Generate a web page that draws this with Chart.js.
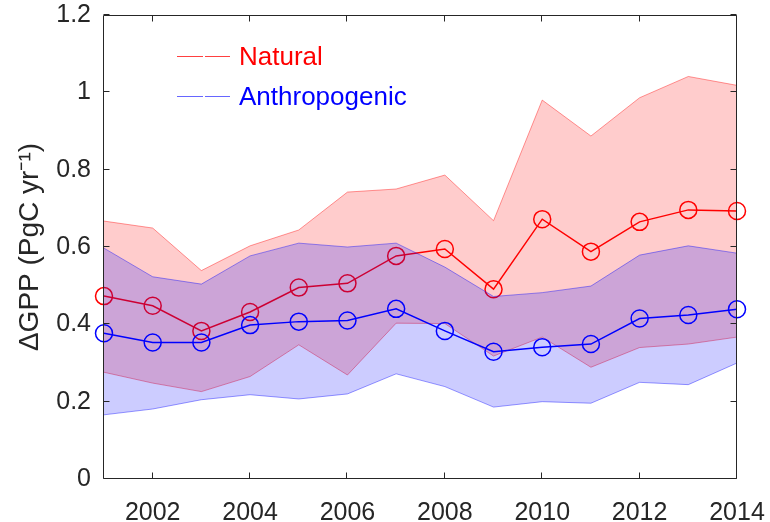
<!DOCTYPE html>
<html><head><meta charset="utf-8">
<script src="https://cdn.jsdelivr.net/npm/chart.js@4"></script>
<style>html,body{margin:0;padding:0;background:#fff}canvas{display:block}</style>
</head><body>
<canvas id="c" width="770" height="522"></canvas>
<script>
const years = [2001,2002,2003,2004,2005,2006,2007,2008,2009,2010,2011,2012,2013,2014];
const naturalMean  = [0.473,0.448,0.383,0.432,0.495,0.506,0.577,0.595,0.491,0.672,0.588,0.665,0.696,0.693];
const naturalUpper = [0.667,0.649,0.539,0.603,0.644,0.742,0.750,0.786,0.668,0.980,0.887,0.986,1.041,1.018];
const naturalLower = [0.276,0.248,0.226,0.265,0.347,0.269,0.403,0.402,0.318,0.367,0.289,0.340,0.349,0.367];
const anthroMean   = [0.377,0.353,0.353,0.398,0.407,0.410,0.440,0.383,0.329,0.341,0.349,0.415,0.424,0.439];
const anthroUpper  = [0.597,0.523,0.504,0.577,0.610,0.600,0.610,0.548,0.472,0.482,0.499,0.579,0.603,0.584];
const anthroLower  = [0.166,0.181,0.205,0.218,0.207,0.220,0.272,0.239,0.186,0.200,0.196,0.250,0.244,0.300];
const xTicks = [2002,2004,2006,2008,2010,2012,2014];
const xTickLabels = ['2002','2004','2006','2008','2010','2012','2014'];
const yTicks = [0,0.2,0.4,0.6,0.8,1,1.2];
const yTickLabels = ['0','0.2','0.4','0.6','0.8','1','1.2'];
const seriesNames = ['Natural','Anthropogenic'];
const yTitle = 'ΔGPP (PgC yr⁻¹)';

const FONT = '"Liberation Sans", Arial, Helvetica, sans-serif';
const AXIS = '#262626';
const pts = arr => arr.map((v,i)=>({x:years[i], y:v}));

const boxPlugin = {
  id:'box',
  afterDatasetsDraw(chart){
    const {ctx, chartArea:a, scales:{x,y}} = chart;
    ctx.save();
    ctx.strokeStyle = AXIS; ctx.lineWidth = 1;
    const L = Math.round(a.left)-0.5, R = Math.round(a.right)-0.5, T = Math.round(a.top)+0.5, B = Math.round(a.bottom)-0.5;
    ctx.beginPath();
    ctx.rect(L, T, R-L, B-T);
    const tl = 6;
    xTicks.forEach(v=>{
      const px = Math.round(x.getPixelForValue(v))-0.5;
      ctx.moveTo(px,B); ctx.lineTo(px,B-tl);
      ctx.moveTo(px,T); ctx.lineTo(px,T+tl);
    });
    yTicks.forEach(v=>{
      const py = Math.round(y.getPixelForValue(v))-0.5;
      ctx.moveTo(L,py); ctx.lineTo(L+tl,py);
      ctx.moveTo(R,py); ctx.lineTo(R-tl,py);
    });
    ctx.stroke();
    // legend
    const items = [
      {label:seriesNames[0], line:'rgba(255,0,0,0.75)', text:'#ff0000', y:56.5},
      {label:seriesNames[1], line:'rgba(0,0,255,0.6)', text:'#0000ff', y:96.5}
    ];
    items.forEach(it=>{
      ctx.strokeStyle = it.line; ctx.lineWidth = 1;
      ctx.beginPath();
      ctx.moveTo(177,it.y); ctx.lineTo(203,it.y);
      ctx.moveTo(205,it.y); ctx.lineTo(230,it.y);
      ctx.stroke();
      ctx.fillStyle = it.text;
      ctx.font = '26px ' + FONT;
      ctx.textAlign = 'left'; ctx.textBaseline = 'middle';
      ctx.fillText(it.label, 239, it.y+1);
    });
    ctx.restore();
  }
};

const meanStyle = (c)=>({
  borderColor:c, backgroundColor:'rgba(0,0,0,0)', borderWidth:1.5,
  pointRadius:8.5, pointHoverRadius:8.5, pointBorderWidth:1.5, pointBorderColor:c,
  pointBackgroundColor:'rgba(0,0,0,0)', pointStyle:'circle', fill:false, clip:false, tension:0
});
const edgeStyle = (c)=>({borderColor:c, borderWidth:1, pointRadius:0, tension:0});
const noPad = s=>{s.paddingTop=0; s.paddingBottom=0; s.paddingLeft=0; s.paddingRight=0;};

new Chart(document.getElementById('c'), {
  type:'line',
  data:{datasets:[
    Object.assign({label:seriesNames[1], data:pts(anthroMean), order:0}, meanStyle('#0000ff')),
    Object.assign({label:'anthro upper', data:pts(anthroUpper), order:1, fill:false}, edgeStyle('rgba(0,0,255,0.4)')),
    Object.assign({label:'anthro lower', data:pts(anthroLower), order:2, fill:'-1', backgroundColor:'rgba(0,0,255,0.2)'}, edgeStyle('rgba(0,0,255,0.4)')),
    Object.assign({label:seriesNames[0], data:pts(naturalMean), order:3}, meanStyle('#ff0000')),
    Object.assign({label:'natural upper', data:pts(naturalUpper), order:4, fill:false}, edgeStyle('rgba(255,0,0,0.4)')),
    Object.assign({label:'natural lower', data:pts(naturalLower), order:5, fill:'-1', backgroundColor:'rgba(255,0,0,0.2)'}, edgeStyle('rgba(255,0,0,0.4)')),
  ]},
  options:{
    responsive:false, animation:false, devicePixelRatio:1,
    layout:{padding:{top:15, right:33, left:0, bottom:0}},
    plugins:{legend:{display:false}, tooltip:{enabled:false}, filler:{propagate:false}},
    scales:{
      x:{type:'linear', min:2001, max:2014,
        grid:{display:false, drawTicks:false}, border:{display:false},
        afterBuildTicks:s=>{s.ticks = xTicks.map(v=>({value:v}));},
        afterFit:s=>{s.height = 43; noPad(s);},
        ticks:{font:{family:FONT, size:25}, color:AXIS, padding:19, maxRotation:0, autoSkip:false,
          callback:v=>xTickLabels[xTicks.indexOf(v)] ?? ''}
      },
      y:{type:'linear', min:0, max:1.2,
        grid:{display:false, drawTicks:false}, border:{display:false},
        afterBuildTicks:s=>{s.ticks = yTicks.map(v=>({value:v}));},
        afterFit:s=>{s.width = 104; noPad(s);},
        title:{display:true, text:yTitle, font:{family:FONT, size:28}, color:AXIS, padding:{top:13,bottom:0}},
        ticks:{font:{family:FONT, size:25}, color:AXIS, padding:13, autoSkip:false,
          callback:v=>{const i = yTicks.findIndex(t=>Math.abs(t-v)<1e-9); return i>=0 ? yTickLabels[i] : '';}}
      }
    }
  },
  plugins:[boxPlugin]
});
</script>
</body></html>
